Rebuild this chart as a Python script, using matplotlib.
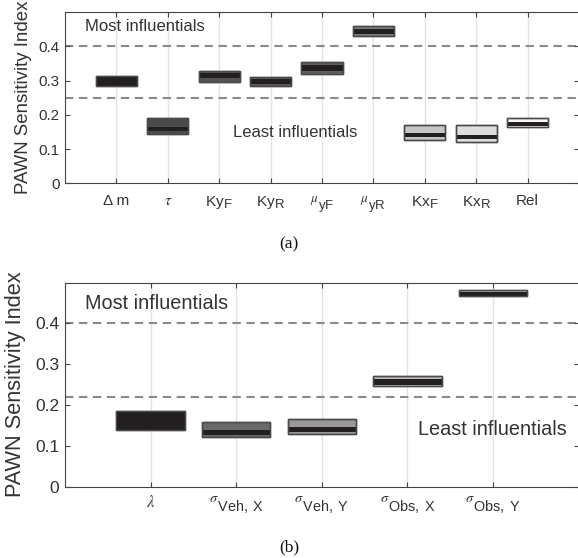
import matplotlib
matplotlib.use("Agg")
import matplotlib.pyplot as plt
import matplotlib._mathtext as _mt
from matplotlib.patches import Rectangle

plt.rcParams['font.family'] = ['Liberation Sans', 'DejaVu Sans']
plt.rcParams['mathtext.fontset'] = 'stix'
_mt.SHRINK_FACTOR = 0.86  # MATLAB-like, nearly full-size subscripts

# ---------------- data: panel (a) ----------------
labels_a = ['Δ m', r'$\tau$', r'Ky$_\mathregular{F}$', r'Ky$_\mathregular{R}$',
            r'${}^{\mu}{}_{\mathregular{yF}}$', r'${}^{\mu}{}_{\mathregular{yR}}$',
            r'Kx$_\mathregular{F}$', r'Kx$_\mathregular{R}$', 'Rel']
lo_a = [0.285, 0.143, 0.297, 0.283, 0.319, 0.430, 0.125, 0.120, 0.164]
hi_a = [0.312, 0.192, 0.329, 0.309, 0.353, 0.459, 0.171, 0.169, 0.190]
blo_a = [0.285, 0.152, 0.306, 0.290, 0.327, 0.437, 0.134, 0.129, 0.167]
bhi_a = [0.312, 0.165, 0.321, 0.303, 0.345, 0.451, 0.146, 0.142, 0.180]
thresholds_a = [0.25, 0.40]

# ---------------- data: panel (b) ----------------
labels_b = [r'$\lambda$', r'${}^{\sigma}{}_{\mathregular{Veh,\ X}}$', r'${}^{\sigma}{}_{\mathregular{Veh,\ Y}}$',
            r'${}^{\sigma}{}_{\mathregular{Obs,\ X}}$', r'${}^{\sigma}{}_{\mathregular{Obs,\ Y}}$']
lo_b = [0.1395, 0.122, 0.128, 0.2465, 0.466]
hi_b = [0.185, 0.158, 0.165, 0.272, 0.481]
blo_b = [0.1395, 0.127, 0.134, 0.249, 0.466]
bhi_b = [0.185, 0.1395, 0.147, 0.264, 0.476]
thresholds_b = [0.22, 0.40]

yticks = [0, 0.1, 0.2, 0.3, 0.4]

# ---------------- styles ----------------
fill_a = ['#231f20', '#4b4b4b', '#555555', '#5a5a5a', '#5f5f5f', '#7d7d7d', '#c6c6c6', '#dedede', '#f7f7f7']
fill_b = ['#231f20', '#6a6a6a', '#999999', '#bcbcbc', '#b5b5b5']
DARK = '#231f20'
EDGE = '#4a4a4a'
TXT = '#333333'
W = 578
H = 558

fig = plt.figure(figsize=(W / 100, H / 100), dpi=100)
ax_a = fig.add_axes([65 / W, 1 - 183.3 / H, (579 - 65) / W, (183.3 - 12) / H])
ax_b = fig.add_axes([65 / W, 1 - 486.7 / H, (578.6 - 65) / W, (486.7 - 282.5) / H])


def draw(ax, labels, lo, hi, blo, bhi, fills, thr, xtick_fs, ytick_fs, pad_x):
    n = len(labels)
    xs = list(range(1, n + 1))
    ax.set_xlim(0, n + 1)
    ax.set_ylim(0, 0.5)
    for x in xs:
        ax.axvline(x, color='#e3e3e3', lw=1.0, zorder=0)
    for t in thr:
        ax.axhline(t, color='#8a8a8a', lw=1.5, linestyle=(0, (4, 2.7)), zorder=1)
    w = 0.8
    for x, l, h, bl, bh, fc in zip(xs, lo, hi, blo, bhi, fills):
        ax.add_patch(Rectangle((x - w / 2, l), w, h - l, facecolor=fc,
                               edgecolor=EDGE, lw=1.0, zorder=3))
        ax.add_patch(Rectangle((x - w / 2, bl), w, bh - bl, facecolor=DARK,
                               edgecolor='none', lw=0, zorder=4))
        ax.add_patch(Rectangle((x - w / 2, l), w, h - l, facecolor='none',
                               edgecolor=EDGE, lw=1.0, zorder=5))
    ax.set_xticks(xs)
    ax.set_xticklabels(labels, fontsize=xtick_fs, color=TXT)
    ax.set_yticks(yticks)
    ax.set_yticklabels([f'{t:g}' for t in yticks], fontsize=ytick_fs, color=TXT)
    ax.tick_params(axis='both', direction='in', length=3.6, width=0.8, color='#444444',
                   top=True, right=True)
    ax.tick_params(axis='x', pad=pad_x)
    ax.tick_params(axis='y', pad=4)
    for s in ax.spines.values():
        s.set_color('#444444')
        s.set_linewidth(0.8)


draw(ax_a, labels_a, lo_a, hi_a, blo_a, bhi_a, fill_a, thresholds_a, 11, 11, 8)
draw(ax_b, labels_b, lo_b, hi_b, blo_b, bhi_b, fill_b, thresholds_b, 12, 12.5, 5)

ax_a.text(0.39, 0.4566, 'Most influentials', fontsize=12, color=TXT, va='center', ha='left')
ax_a.text(3.27, 0.148, 'Least influentials', fontsize=12, color=TXT, va='center', ha='left')
ax_b.text(0.23, 0.448, 'Most influentials', fontsize=14.3, color=TXT, va='center', ha='left')
ax_b.text(4.12, 0.14, 'Least influentials', fontsize=14.3, color=TXT, va='center', ha='left')

fig.text(24 / W, 1 - 97.5 / H, 'PAWN Sensitivity Index', rotation=90, fontsize=13.4,
         color=TXT, ha='center', va='center')
fig.text(16 / W, 1 - 384.6 / H, 'PAWN Sensitivity Index', rotation=90, fontsize=15.7,
         color=TXT, ha='center', va='center')

fig.text(289 / W, 1 - 244 / H, '(a)', fontsize=12.5, family='Liberation Serif',
         color='#111111', ha='center', va='center')
fig.text(289 / W, 1 - 547 / H, '(b)', fontsize=12.5, family='Liberation Serif',
         color='#111111', ha='center', va='center')

fig.savefig('out.png', dpi=100)
